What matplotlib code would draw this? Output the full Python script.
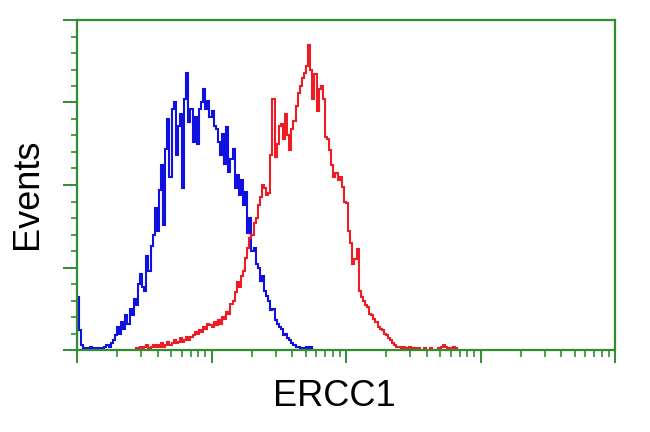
import numpy as np
import matplotlib
matplotlib.use("Agg")
import matplotlib.pyplot as plt
from matplotlib.ticker import LogLocator, MultipleLocator, NullFormatter

# канал -> 10**(канал/64), 256 каналов на 4 декады
channels_per_decade = 64

# синяя гистограмма (контроль), начиная с канала 0
blue_start = 0
blue_counts = [
    32, 12, 3, 0, 1, 0, 2, 1, 0, 1, 0, 1,
    1, 2, 3, 2, 4, 6, 9, 14, 10, 17,
    13, 21, 16, 25, 21, 31, 27, 40, 46, 38,
    36, 57, 48, 63, 70, 86, 72, 97, 112, 76,
    122, 140, 105, 146, 150, 118, 136, 143, 98, 152,
    168, 138, 146, 126, 141, 125, 146, 150, 158, 146,
    151, 141, 145, 136, 134, 126, 118, 131, 113, 135,
    108, 116, 122, 98, 106, 94, 103, 88, 96, 71,
    80, 60, 62, 52, 50, 42, 45, 36, 33, 30,
    24, 25, 18, 16, 14, 13, 9, 10, 7, 6,
    4, 3, 2, 2, 1, 1, 0, 2, 1, 2, 0,
]

# красная гистограмма (ERCC1), начиная с канала 27
red_start = 27
red_counts = [
    0, 1, 1, 2, 1, 2, 3, 1, 2, 3,
    2, 3, 2, 4, 2, 3, 5, 3, 4, 6,
    4, 5, 7, 5, 6, 8, 6, 8, 9, 11,
    10, 12, 11, 14, 13, 16, 15, 14, 17, 15,
    18, 16, 20, 19, 23, 22, 28, 30, 35, 41,
    38, 45, 48, 56, 62, 68, 70, 77, 80, 88,
    93, 100, 98, 94, 95, 118, 152, 117, 125, 136,
    137, 128, 143, 130, 121, 134, 139, 148, 156, 160,
    165, 168, 172, 185, 170, 152, 167, 145, 158, 160,
    152, 129, 128, 121, 112, 105, 107, 103, 105, 99,
    90, 89, 72, 65, 52, 55, 61, 36, 32, 30,
    27, 26, 22, 21, 19, 17, 14, 13, 12, 10,
    9, 7, 6, 4, 3, 2, 2, 1, 2, 1,
    1, 2, 1, 1, 0, 1, 0, 0, 1, 0,
    0, 1, 0, 0, 0, 1, 2, 3, 2, 1,
    0, 1, 2, 1, 0,
]

x_label = "ERCC1"
y_label = "Events"

green = "#2f8f2f"

fig = plt.figure(figsize=(6.5, 4.32), dpi=100)
ax = fig.add_axes([77 / 650, 82 / 432, 538 / 650, 330 / 432])


def edges(start, n):
    return 10 ** (np.arange(start, start + n + 1) / channels_per_decade)


ax.stairs(blue_counts, edges(blue_start, len(blue_counts)), color="#1010e0", lw=1.5)
ax.stairs(red_counts, edges(red_start, len(red_counts)), color="#ee1c24", lw=1.5)

ax.set_xscale("log")
ax.set_xlim(1, 1e4)
ax.set_ylim(0, 200)

ax.xaxis.set_major_locator(LogLocator(base=10, numticks=10))
ax.xaxis.set_minor_locator(LogLocator(base=10, subs=np.arange(2, 10), numticks=20))
ax.xaxis.set_major_formatter(NullFormatter())
ax.xaxis.set_minor_formatter(NullFormatter())
ax.yaxis.set_major_locator(MultipleLocator(50))
ax.yaxis.set_minor_locator(MultipleLocator(10))
ax.yaxis.set_major_formatter(NullFormatter())

for s in ax.spines.values():
    s.set_color(green)
    s.set_linewidth(1.6)

ax.tick_params(which="major", direction="out", color=green, width=1.4, length=9)
ax.tick_params(which="minor", direction="out", color=green, width=1.2, length=5)
ax.tick_params(axis="y", which="major", length=10)
ax.tick_params(axis="y", which="minor", length=4.5)

fig.text(334 / 650, 1 - 397 / 432, x_label, ha="center", va="center",
         fontsize=26, family=["Liberation Sans", "DejaVu Sans"])
fig.text(27 / 650, 1 - 194 / 432, y_label, ha="center", va="center", rotation=90,
         fontsize=26, family=["Liberation Sans", "DejaVu Sans"])

fig.savefig("out.png", dpi=100, facecolor="white")
